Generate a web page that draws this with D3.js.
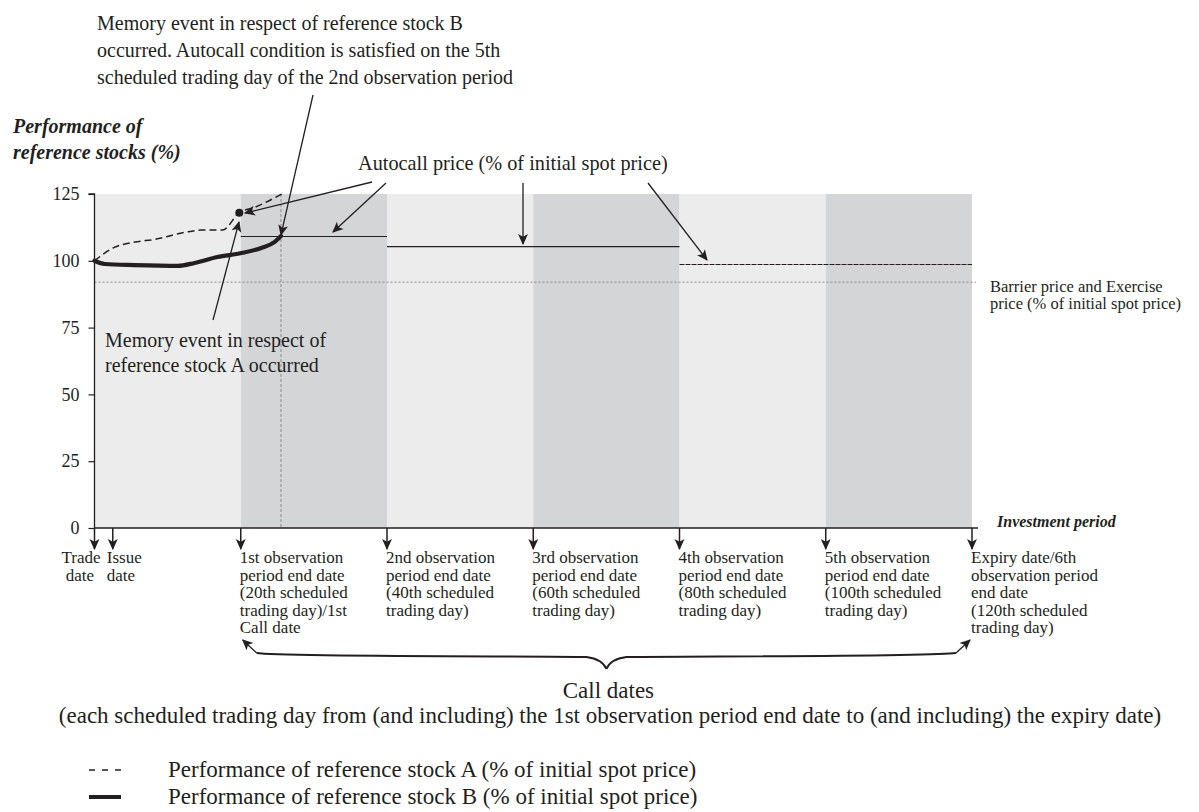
<!DOCTYPE html>
<html>
<head>
<meta charset="utf-8">
<script src="https://cdn.jsdelivr.net/npm/d3@7"></script>
<style>
  html, body { margin: 0; padding: 0; background: #fff; }
  svg { display: block; }
  svg text { font-family: "Liberation Serif", "Times New Roman", serif; }
</style>
</head>
<body>
<svg id="chart" width="1199" height="812"></svg>
<script>
// ---------- data ----------
const bandStarts = [0, 20, 40, 60, 80, 100];
const bandEnds = [20, 40, 60, 80, 100, 120];
const yTicks = [0, 25, 50, 75, 100, 125];

const daysA = [0, 2.7, 5.5, 8.2, 12.3, 14.6, 17.5, 19.8, 21.9, 25.6];
const stockA = [100, 105, 107, 108, 110.6, 111.5, 111.5, 118, 120, 125];
const daysB = [0, 1.4, 5.5, 11.4, 13.7, 16.8, 20.1, 22.8, 24.6, 25.5];
const stockB = [100, 98.8, 98.4, 98.1, 99.2, 101.4, 102.9, 104.8, 107, 109.3];

const autocallStart = [20, 40, 80];
const autocallEnd = [40, 80, 120];
const autocallLevel = [109.3, 105.5, 98.8];
const barrierLevel = 92;
const memoryEventDay = 19.8;
const memoryEventValue = 118;
const autocallDay = 25.5;

const dateDays = [0, 2.5, 20, 40, 60, 80, 100, 120];
const dateLabels = [
  "Trade\n date",
  "Issue\ndate",
  "1st observation\nperiod end date\n(20th scheduled\ntrading day)/1st\nCall date",
  "2nd observation\nperiod end date\n(40th scheduled\ntrading day)",
  "3rd observation\nperiod end date\n(60th scheduled\ntrading day)",
  "4th observation\nperiod end date\n(80th scheduled\ntrading day)",
  "5th observation\nperiod end date\n(100th scheduled\ntrading day)",
  "Expiry date/6th\nobservation period\nend date\n(120th scheduled\ntrading day)"
];
const labelOffsets = [-32, -5, 0, 0, 0, 0, 0, 0];

const legendLabels = ["Performance of reference stock A (% of initial spot price)",
  "Performance of reference stock B (% of initial spot price)"];

// ---------- setup ----------
const svg = d3.select("#chart");
const ink = "#231f20";
const x = d3.scaleLinear().domain([0, 120]).range([94.5, 972]);
const y = d3.scaleLinear().domain([0, 125]).range([528, 194]);

const defs = svg.append("defs");
defs.append("marker").attr("id", "arr")
  .attr("viewBox", "0 0 10 10").attr("refX", 9).attr("refY", 5)
  .attr("markerWidth", 11).attr("markerHeight", 11).attr("markerUnits", "userSpaceOnUse")
  .attr("orient", "auto")
  .append("path").attr("d", "M0,0.5 L10,5 L0,9.5 L2.5,5 Z").attr("fill", ink);

// bands
svg.append("g").selectAll("rect").data(bandStarts).join("rect")
  .attr("x", (d) => x(d)).attr("y", y(125))
  .attr("width", (d, i) => x(bandEnds[i]) - x(d))
  .attr("height", y(0) - y(125))
  .attr("fill", (d, i) => i % 2 === 0 ? "#ececec" : "#d4d5d7");

// barrier line
svg.append("line").attr("x1", x(0)).attr("x2", x(120) + 4)
  .attr("y1", y(barrierLevel)).attr("y2", y(barrierLevel))
  .attr("stroke", "#8a8a8a").attr("stroke-width", 1).attr("stroke-dasharray", "2,2");

// vertical dotted line at autocall day
svg.append("line").attr("x1", x(autocallDay)).attr("x2", x(autocallDay))
  .attr("y1", y(125)).attr("y2", y(0))
  .attr("stroke", "#8a8a8a").attr("stroke-width", 1).attr("stroke-dasharray", "3,2");

// autocall levels
svg.append("g").selectAll("line").data(autocallStart).join("line")
  .attr("x1", (d) => x(d)).attr("x2", (d, i) => x(autocallEnd[i]))
  .attr("y1", (d, i) => y(autocallLevel[i]) + 0.5).attr("y2", (d, i) => y(autocallLevel[i]) + 0.5)
  .attr("stroke", ink).attr("stroke-width", 1.1)
  .attr("stroke-dasharray", (d, i) => i === 2 ? "5,1" : null);

// y axis
const yAxis = d3.axisLeft(y).tickValues(yTicks).tickSize(6).tickSizeOuter(0).tickPadding(9);
const gy = svg.append("g").attr("transform", `translate(${x(0)},0)`).call(yAxis);
gy.select(".domain").attr("stroke", ink).attr("stroke-width", 1.3).attr("d", `M-6,${y(125)}H0V${y(0)}`);
gy.selectAll(".tick line").attr("stroke", ink).attr("stroke-width", 1.2);
gy.selectAll(".tick text").attr("fill", ink).style("font-size", "18px")
  .style("font-family", "'Liberation Serif', serif");

// x axis base line
svg.append("line").attr("x1", x(0)).attr("x2", x(120) + 6)
  .attr("y1", y(0)).attr("y2", y(0)).attr("stroke", ink).attr("stroke-width", 1.3);

// date arrows
svg.append("g").selectAll("line").data(dateDays).join("line")
  .attr("x1", (d) => x(d)).attr("x2", (d) => x(d))
  .attr("y1", y(0)).attr("y2", y(0) + 21)
  .attr("stroke", ink).attr("stroke-width", 1.5).attr("marker-end", "url(#arr)");

// date labels
const lab = svg.append("g").selectAll("text").data(dateLabels).join("text")
  .attr("fill", ink).style("font-size", "17px");
lab.each(function (d, i) {
  const t = d3.select(this);
  d.split("\n").forEach((line, j) => {
    t.append("tspan").attr("x", x(dateDays[i]) + labelOffsets[i] - 1)
      .attr("y", 563 + j * 17.5).style("white-space", "pre").text(line);
  });
});

// lines
const lineGen = d3.line().curve(d3.curveMonotoneX);
const ptsA = daysA.map((d, i) => [x(d), y(stockA[i])]);
const ptsB = daysB.map((d, i) => [x(d), y(stockB[i])]);
svg.append("path").attr("d", lineGen(ptsA)).attr("fill", "none")
  .attr("stroke", ink).attr("stroke-width", 1.5).attr("stroke-dasharray", "7,4");
svg.append("path").attr("d", lineGen(ptsB)).attr("fill", "none")
  .attr("stroke", ink).attr("stroke-width", 4.2).attr("stroke-linecap", "round");
svg.append("circle").attr("cx", x(memoryEventDay)).attr("cy", y(memoryEventValue)).attr("r", 4).attr("fill", ink);

// ---------- annotations ----------
function arrow(x1, y1, x2, y2) {
  svg.append("line").attr("x1", x1).attr("y1", y1).attr("x2", x2).attr("y2", y2)
    .attr("stroke", ink).attr("stroke-width", 1.3).attr("marker-end", "url(#arr)");
}
function multi(xp, yp, lines, size, lh, extra) {
  const t = svg.append("text").attr("fill", ink).style("font-size", size + "px");
  if (extra) extra(t);
  lines.forEach((l, j) => t.append("tspan").attr("x", xp).attr("y", yp + j * lh).text(l));
  return t;
}

multi(97, 30, ["Memory event in respect of reference stock B",
  "occurred. Autocall condition is satisfied on the 5th",
  "scheduled trading day of the 2nd observation period"], 20, 27);
arrow(313, 95, x(autocallDay), y(autocallLevel[0]) - 1);

multi(13, 133, ["Performance of", "reference stocks (%)"], 20, 26,
  (t) => t.style("font-weight", "bold").style("font-style", "italic"));

multi(358, 170, ["Autocall price (% of initial spot price)"], 20.3, 0);
arrow(372, 182, 245, 213);
arrow(386, 183, 333, 232);
arrow(523, 183, 523, 244);
arrow(648, 183, 707, 260);

multi(105, 347, ["Memory event in respect of", "reference stock A occurred"], 20, 25);
arrow(213, 320, 239, 222);

multi(990, 292, ["Barrier price and Exercise", "price (% of initial spot price)"], 16.5, 17);

svg.append("text").attr("x", 997).attr("y", 527)
  .attr("fill", ink).style("font-size", "16px").style("font-weight", "bold").style("font-style", "italic")
  .text("Investment period");

// brace
const bx1 = x(20) + 2, bx2 = x(120) - 2, bm = (bx1 + bx2) / 2;
const braceTop = 646, braceMid = 657, braceTip = 669;
svg.append("path")
  .attr("d", `M${bx1 + 14},${braceMid - 4} C${bx1 + 40},${braceMid} ${bm - 60},${braceMid - 1} ${bm - 20},${braceMid} Q${bm - 4},${braceMid + 2} ${bm},${braceTip}`)
  .attr("fill", "none").attr("stroke", ink).attr("stroke-width", 2);
svg.append("path")
  .attr("d", `M${bx2 - 14},${braceMid - 4} C${bx2 - 40},${braceMid} ${bm + 60},${braceMid - 1} ${bm + 20},${braceMid} Q${bm + 4},${braceMid + 2} ${bm},${braceTip}`)
  .attr("fill", "none").attr("stroke", ink).attr("stroke-width", 2);
arrow(bx1 + 14, braceMid - 4, bx1, braceTop - 6);
arrow(bx2 - 14, braceMid - 4, bx2, braceTop - 6);

svg.append("text").attr("x", bm + 2).attr("y", 698).attr("text-anchor", "middle")
  .attr("fill", ink).style("font-size", "23px").text("Call dates");
svg.append("text").attr("x", 610).attr("y", 723).attr("text-anchor", "middle")
  .attr("fill", ink).style("font-size", "23px")
  .text("(each scheduled trading day from (and including) the 1st observation period end date to (and including) the expiry date)");

// legend
const legendDash = ["6,7", null];
const legendWidth = [1.5, 4];
legendLabels.forEach((l, i) => {
  const ly = 770 + i * 27;
  svg.append("line").attr("x1", 89).attr("x2", 121).attr("y1", ly).attr("y2", ly)
    .attr("stroke", ink).attr("stroke-width", legendWidth[i])
    .attr("stroke-dasharray", legendDash[i]);
  svg.append("text").attr("x", 168).attr("y", ly + 7).attr("fill", ink)
    .style("font-size", "23px").text(l);
});
</script>
</body>
</html>
